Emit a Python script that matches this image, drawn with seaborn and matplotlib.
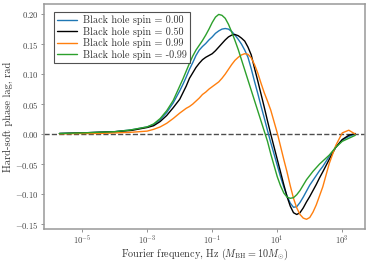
import numpy as np
import pandas as pd
import matplotlib
matplotlib.use("Agg")
import matplotlib.pyplot as plt
import seaborn as sns
from matplotlib.ticker import FixedLocator, FuncFormatter, NullLocator

# log10 of Fourier frequency (Hz)
log_freq = [-5.7, -5.0, -4.5, -4.0, -3.5, -3.0, -2.8, -2.6, -2.4, -2.2,
            -2.0, -1.9, -1.8, -1.7, -1.6, -1.5, -1.4, -1.3, -1.2, -1.1,
            -1.0, -0.9, -0.8, -0.7, -0.6, -0.5, -0.4, -0.3, -0.2, -0.1,
            0.0, 0.1, 0.2, 0.3, 0.4, 0.5, 0.6, 0.7, 0.8, 0.9,
            1.0, 1.1, 1.2, 1.3, 1.4, 1.5, 1.6, 1.7, 1.8, 1.9,
            2.0, 2.1, 2.2, 2.3, 2.4, 2.6, 2.8, 3.0, 3.2, 3.4]

lag_spin_000 = [0.001, 0.002, 0.003, 0.004, 0.007, 0.012, 0.016, 0.024, 0.036, 0.052,
                0.072, 0.083, 0.095, 0.108, 0.119, 0.131, 0.140, 0.146, 0.151, 0.157,
                0.162, 0.168, 0.172, 0.175, 0.176, 0.175, 0.171, 0.165, 0.158, 0.150,
                0.140, 0.128, 0.109, 0.088, 0.068, 0.047, 0.027, 0.006, -0.014, -0.033,
                -0.052, -0.071, -0.088, -0.103, -0.115, -0.122, -0.121, -0.114, -0.105, -0.095,
                -0.085, -0.077, -0.069, -0.061, -0.054, -0.037, -0.022, -0.010, -0.004, 0.000]
lag_spin_050 = [0.001, 0.002, 0.003, 0.004, 0.006, 0.011, 0.014, 0.021, 0.031, 0.044,
                0.058, 0.069, 0.080, 0.093, 0.102, 0.111, 0.118, 0.124, 0.128, 0.131,
                0.134, 0.139, 0.145, 0.151, 0.157, 0.162, 0.165, 0.166, 0.164, 0.160,
                0.155, 0.145, 0.132, 0.110, 0.089, 0.067, 0.045, 0.022, 0.000, -0.021,
                -0.042, -0.063, -0.084, -0.104, -0.120, -0.131, -0.134, -0.131, -0.123, -0.113,
                -0.104, -0.094, -0.084, -0.073, -0.063, -0.042, -0.022, -0.009, -0.002, 0.001]
lag_spin_099 = [0.0005, 0.001, 0.001, 0.002, 0.003, 0.005, 0.008, 0.012, 0.018, 0.026,
                0.035, 0.039, 0.043, 0.046, 0.050, 0.055, 0.060, 0.066, 0.070, 0.075,
                0.079, 0.083, 0.087, 0.093, 0.100, 0.108, 0.116, 0.123, 0.128, 0.132,
                0.134, 0.133, 0.127, 0.116, 0.102, 0.085, 0.069, 0.055, 0.040, 0.021,
                0.002, -0.020, -0.042, -0.063, -0.086, -0.107, -0.123, -0.134, -0.140, -0.142,
                -0.139, -0.130, -0.118, -0.103, -0.088, -0.049, -0.019, 0.002, 0.0065, 0.000]
lag_spin_m099 = [0.001, 0.002, 0.003, 0.004, 0.007, 0.012, 0.017, 0.026, 0.039, 0.056,
                 0.080, 0.092, 0.105, 0.118, 0.130, 0.140, 0.148, 0.156, 0.165, 0.175,
                 0.186, 0.195, 0.1995, 0.198, 0.193, 0.183, 0.170, 0.156, 0.141, 0.124,
                 0.107, 0.090, 0.073, 0.056, 0.039, 0.022, 0.005, -0.012, -0.033, -0.052,
                 -0.071, -0.086, -0.098, -0.105, -0.107, -0.106, -0.101, -0.094, -0.085, -0.076,
                 -0.069, -0.062, -0.056, -0.050, -0.045, -0.035, -0.022, -0.012, -0.007, -0.002]

labels = ["Black hole spin = 0.00", "Black hole spin = 0.50",
          "Black hole spin = 0.99", "Black hole spin = -0.99"]
colors = ["#1f77b4", "#000000", "#ff7f0e", "#2ca02c"]

x_ticks = [1e-5, 1e-3, 1e-1, 1e1, 1e3]
y_ticks = [-0.15, -0.10, -0.05, 0.00, 0.05, 0.10, 0.15, 0.20]

series = [lag_spin_000, lag_spin_050, lag_spin_099, lag_spin_m099]
freq = [10.0 ** v for v in log_freq]
df = pd.concat([pd.DataFrame({"freq": freq, "lag": s, "spin": lab})
                for s, lab in zip(series, labels)], ignore_index=True)

sns.set_style("white")
plt.rcParams["font.family"] = "serif"
plt.rcParams["font.serif"] = ["cmr10"]
plt.rcParams["mathtext.fontset"] = "cm"
plt.rcParams["axes.unicode_minus"] = False

fig = plt.figure(figsize=(3.74, 2.61), dpi=100)
ax = fig.add_axes([0.118, 0.123, 0.858, 0.862])

sns.lineplot(data=df, x="freq", y="lag", hue="spin", hue_order=labels,
             palette=colors, linewidth=1.0, ax=ax, sort=False)
ax.axhline(0.0, color="0.3", linestyle="--", linewidth=1.0, zorder=0)

ax.set_xscale("log")
ax.set_xlim(10 ** -6.17, 10 ** 3.7)
ax.set_ylim(-0.158, 0.217)
ax.xaxis.set_major_locator(FixedLocator(x_ticks))
ax.xaxis.set_minor_locator(NullLocator())
ax.xaxis.set_major_formatter(FuncFormatter(lambda v, p: r"$10^{%d}$" % round(np.log10(v))))
ax.yaxis.set_major_locator(FixedLocator(y_ticks))
ax.yaxis.set_major_formatter(FuncFormatter(lambda v, p: r"$%.2f$" % v))

for s in ax.spines.values():
    s.set_color("0.6")
    s.set_linewidth(1.1)
ax.tick_params(axis="both", which="major", labelsize=6.2, length=2.5, width=0.6,
               color="0.5", labelcolor="0.25", pad=1.2, bottom=True, left=True)

ax.set_xlabel(r"Fourier frequency, Hz ($M_{\rm BH} = 10 M_{\odot}$)",
              fontsize=7.3, color="0.2", labelpad=0.0)
ax.set_ylabel("Hard-soft phase lag, rad", fontsize=7.5, color="0.2", labelpad=1.5)

leg = ax.legend(loc="upper left", fontsize=7.3, frameon=True, fancybox=False,
                edgecolor="0.15", handlelength=2.0, handletextpad=0.6,
                borderpad=0.3, labelspacing=0.15, bbox_to_anchor=(0.015, 0.985))
leg.get_frame().set_linewidth(0.8)
for t in leg.get_texts():
    t.set_color("0.2")

fig.savefig("out.png", dpi=100)
